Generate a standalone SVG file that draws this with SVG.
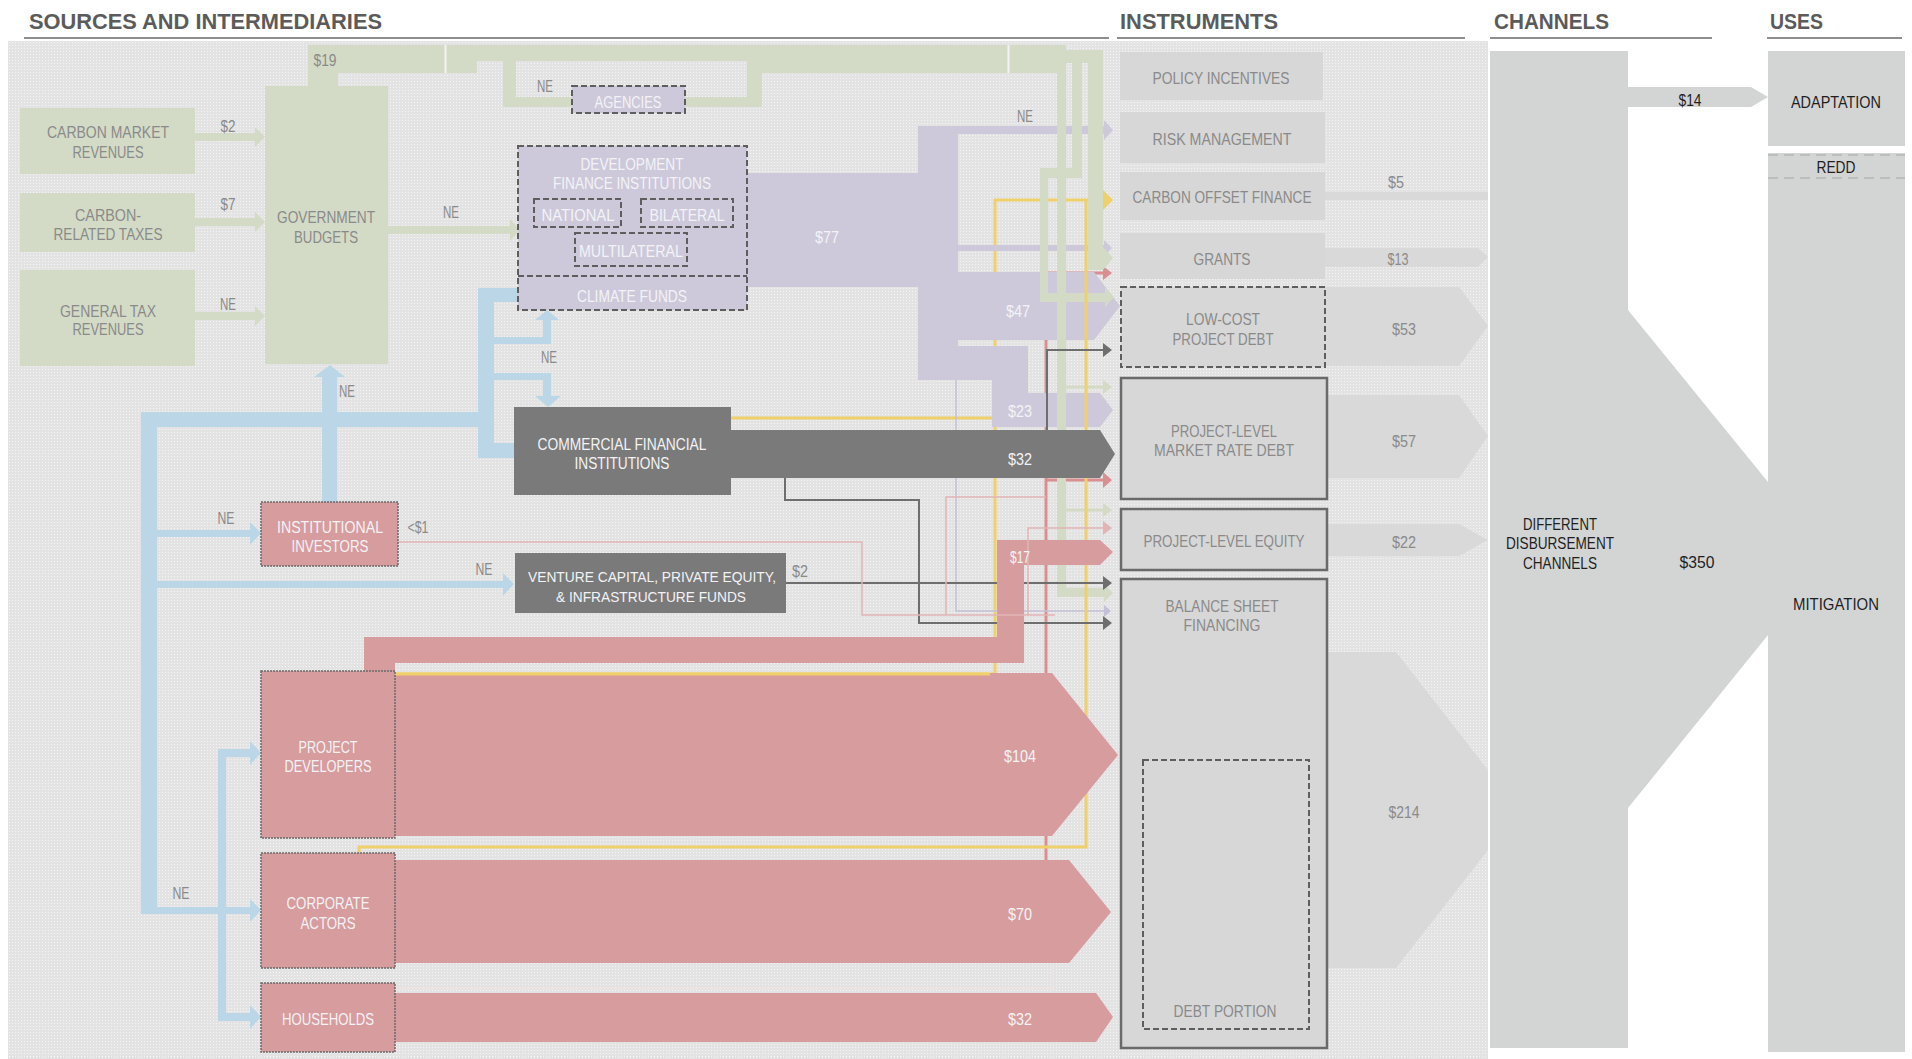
<svg xmlns="http://www.w3.org/2000/svg" width="1912" height="1059" viewBox="0 0 1912 1059">
<defs>
<style>
.t{font-family:"Liberation Sans",Arial,sans-serif;font-size:17px;text-anchor:middle}
.sm{font-size:14px}
.g{fill:#8a8a8a}
.w{fill:#f3f3f6}
.d{fill:#1f1f1f}
.hd{font-family:"Liberation Sans",Arial,sans-serif;font-size:22px;font-weight:bold;fill:#5b5b5b}
.hl{stroke:#8e8e8e;stroke-width:2}
.grn{fill:#d3dbc6}
.pur{fill:#cdc9db}
.blu{fill:#bbd7e7}
.red{fill:#d79c9e}
.drk{fill:#7a7a7a}
.ins{fill:#d7d7d7}
.chv{fill:#d9d9d9}
.chn{fill:#d3d5d5}
.dash{fill:none;stroke:#5e5e5e;stroke-width:2;stroke-dasharray:6 3}
.sol{fill:none;stroke:#6a6a6a;stroke-width:2.5}
.rb{stroke:#6a6a6a;stroke-width:1.5;stroke-dasharray:2 1}
.yl{fill:none;stroke:#efd06a;stroke-width:3}
.rl{fill:none;stroke:#d98f91;stroke-width:3}
.pl{fill:none;stroke:#e2b4b5;stroke-width:1.5}
.dl{fill:none;stroke:#6e6e6e;stroke-width:2}
.ll{fill:none;stroke:#c4c0d8;stroke-width:1.5}
</style>
<pattern id="tex" width="3" height="3" patternUnits="userSpaceOnUse"><rect width="1" height="1" fill="#f4f4f4"/></pattern>
</defs>

<g id="background">
<rect x="0" y="0" width="1912" height="1059" fill="#ffffff"/>
<rect x="8" y="41" width="1480" height="1018" fill="#e3e3e3"/>
<rect x="8" y="41" width="1480" height="1018" fill="url(#tex)"/>
</g>

<g id="headers">
<text class="hd" x="29" y="29" textLength="353" lengthAdjust="spacingAndGlyphs">SOURCES AND INTERMEDIARIES</text>
<text class="hd" x="1120" y="29" textLength="158" lengthAdjust="spacingAndGlyphs">INSTRUMENTS</text>
<text class="hd" x="1494" y="29" textLength="115" lengthAdjust="spacingAndGlyphs">CHANNELS</text>
<text class="hd" x="1770" y="29" textLength="53" lengthAdjust="spacingAndGlyphs">USES</text>
<line class="hl" x1="24" y1="38" x2="1109" y2="38"/>
<line class="hl" x1="1117" y1="38" x2="1465" y2="38"/>
<line class="hl" x1="1490" y1="38" x2="1712" y2="38"/>
<line class="hl" x1="1767" y1="38" x2="1902" y2="38"/>
</g>

<g id="connectors">
<g id="blue-flows">
<rect class="blu" x="141" y="412" width="16" height="502"/>
<rect class="blu" x="141" y="412" width="353" height="15"/>
<rect class="blu" x="478" y="288" width="16" height="170"/>
<rect class="blu" x="478" y="288" width="40" height="14"/>
<rect class="blu" x="494" y="337" width="57" height="7"/>
<rect class="blu" x="543" y="318" width="8" height="26"/>
<polygon class="blu" points="535,320 559,320 547,310"/>
<rect class="blu" x="494" y="373" width="57" height="7"/>
<rect class="blu" x="543" y="373" width="8" height="25"/>
<polygon class="blu" points="535,396 561,396 548,407"/>
<rect class="blu" x="478" y="443" width="36" height="15"/>
<rect class="blu" x="322" y="375" width="15" height="127"/>
<polygon class="blu" points="314,377 345,377 330,365"/>
<rect class="blu" x="157" y="530" width="93" height="7"/>
<polygon class="blu" points="250,522 250,545 261,533"/>
<rect class="blu" x="157" y="581" width="347" height="7"/>
<polygon class="blu" points="503,573 503,596 514,584"/>
<rect class="blu" x="141" y="907" width="109" height="7"/>
<polygon class="blu" points="250,899 250,922 261,910"/>
<rect class="blu" x="218" y="749" width="8" height="272"/>
<rect class="blu" x="218" y="749" width="32" height="8"/>
<polygon class="blu" points="250,741 250,765 261,753"/>
<rect class="blu" x="218" y="1013" width="32" height="8"/>
<polygon class="blu" points="250,1005 250,1029 261,1017"/>
</g>

<g id="green-flows">
<rect class="grn" x="195" y="133" width="60" height="8"/>
<polygon class="grn" points="255,127 255,147 265,137"/>
<rect class="grn" x="195" y="218" width="60" height="8"/>
<polygon class="grn" points="255,212 255,232 265,222"/>
<rect class="grn" x="195" y="312" width="60" height="8"/>
<polygon class="grn" points="255,306 255,326 265,316"/>
<rect class="grn" x="388" y="226" width="122" height="8"/>
<polygon class="grn" points="510,219 510,241 520,230"/>
<rect class="grn" x="308" y="45" width="758" height="16"/>
<rect class="grn" x="308" y="61" width="169" height="12"/>
<rect class="grn" x="747" y="61" width="319" height="12"/>
<rect class="grn" x="308" y="73" width="30" height="13"/>
<rect class="grn" x="503" y="61" width="13" height="46"/>
<rect class="grn" x="503" y="97" width="69" height="10"/>
<rect class="grn" x="685" y="97" width="77" height="10"/>
<rect class="grn" x="747" y="61" width="15" height="46"/>
<line x1="445.5" y1="45" x2="445.5" y2="73" stroke="#f2f2f2" stroke-width="2"/>
<line x1="1008.5" y1="45" x2="1008.5" y2="73" stroke="#f2f2f2" stroke-width="2"/>
</g>

<g id="yellow-a">
<path class="yl" d="M395 674H995V200H1104"/>
<path class="yl" d="M731 418H995"/>
<polygon fill="#efd06a" points="1103,190 1113,200 1103,210"/>
</g>

<g id="red-thin">
<path class="rl" d="M1046 860V273H1104"/>
<path class="rl" d="M1046 480H1104"/>
<polygon fill="#d98f91" points="1103,266 1112,273 1103,280"/>
<polygon fill="#d98f91" points="1103,472 1112,480 1103,488"/>
</g>

<g id="purple-flows">
<rect class="pur" x="747" y="173" width="172" height="114"/>
<rect class="pur" x="918" y="126" width="40" height="254"/>
<rect class="pur" x="958" y="126" width="146" height="8"/>
<polygon class="pur" points="1104,120 1113,130 1104,140"/>
<rect class="pur" x="958" y="245" width="146" height="6"/>
<polygon class="pur" points="1104,240 1112,248 1104,256"/>
<polygon class="pur" points="958,272 1094,272 1120,306 1094,340 958,340"/>
<rect class="pur" x="918" y="346" width="110" height="34"/>
<rect class="pur" x="992" y="346" width="36" height="81"/>
<polygon class="pur" points="992,393 1100,393 1113,410 1100,427 992,427"/>
<path class="ll" d="M956 380V611H1104"/>
<polygon fill="#c4c0d8" points="1104,605 1111,611 1104,617"/>
</g>

<g id="green-verticals">
<rect class="grn" x="1057" y="61" width="9" height="536"/>
<rect class="grn" x="1057" y="588" width="47" height="9"/>
<polygon class="grn" points="1104,584 1113,593 1104,602"/>
<rect class="grn" x="1066" y="50" width="37" height="13"/>
<rect class="grn" x="1088" y="50" width="15" height="220"/>
<polygon class="grn" points="1103,247 1113,258 1103,270"/>
<rect class="grn" x="1072" y="63" width="10" height="115"/>
<rect class="grn" x="1040" y="168" width="42" height="10"/>
<rect class="grn" x="1040" y="168" width="8" height="134"/>
<rect class="grn" x="1040" y="293" width="65" height="9"/>
<polygon class="grn" points="1105,287 1114,297 1105,307"/>
<path d="M1066 387H1104M1066 510H1104" fill="none" stroke="#d3dbc6" stroke-width="3"/>
<polygon class="grn" points="1103,380 1112,387 1103,394"/>
<polygon class="grn" points="1103,503 1112,510 1103,517"/>
</g>

<g id="yellow-b">
<path class="yl" d="M359 853V847H1086V200"/>
</g>

<g id="dark-flows">
<polygon class="drk" points="731,430 1100,430 1115,454 1100,478 731,478"/>
<path class="dl" d="M785 478V500H919V623H1104"/>
<polygon fill="#6e6e6e" points="1103,616 1112,623 1103,630"/>
<path class="dl" d="M786 583H1104"/>
<polygon fill="#6e6e6e" points="1103,576 1112,583 1103,590"/>
<path class="dl" d="M1047 430V350H1104"/>
<polygon fill="#6e6e6e" points="1103,343 1112,350 1103,357"/>
</g>

<g id="red-flows">
<rect class="red" x="364" y="637" width="660" height="26"/>
<rect class="red" x="364" y="637" width="31" height="36"/>
<rect class="red" x="997" y="540" width="27" height="123"/>
<polygon class="red" points="997,540 1100,540 1113,552 1100,565 997,565"/>
<polygon class="red" points="395,673 1052,673 1118,755 1052,836 395,836"/>
<polygon class="red" points="395,860 1069,860 1111,912 1069,963 395,963"/>
<polygon class="red" points="395,993 1096,993 1113,1017 1096,1042 395,1042"/>
<path class="yl" d="M395 674H990"/>
<path class="pl" d="M398 542H862V615H1055"/>
<path class="pl" d="M946 615V497H1046"/>
<path class="pl" d="M1028 615V528H1104"/>
<polygon fill="#e2b4b5" points="1103,521 1112,528 1103,535"/>
<path d="M395 988H1053V965" fill="none" stroke="#eee3e3" stroke-width="2"/>
</g>

<g id="flow-labels">
<text class="t g" x="325" y="66" textLength="23" lengthAdjust="spacingAndGlyphs">$19</text>
<text class="t g" x="545" y="92" textLength="16" lengthAdjust="spacingAndGlyphs">NE</text>
<text class="t g" x="228" y="132" textLength="15" lengthAdjust="spacingAndGlyphs">$2</text>
<text class="t g" x="228" y="210" textLength="15" lengthAdjust="spacingAndGlyphs">$7</text>
<text class="t g" x="228" y="310" textLength="16" lengthAdjust="spacingAndGlyphs">NE</text>
<text class="t g" x="451" y="218" textLength="16" lengthAdjust="spacingAndGlyphs">NE</text>
<text class="t g" x="347" y="397" textLength="16" lengthAdjust="spacingAndGlyphs">NE</text>
<text class="t g" x="549" y="363" textLength="16" lengthAdjust="spacingAndGlyphs">NE</text>
<text class="t g" x="1025" y="122" textLength="16" lengthAdjust="spacingAndGlyphs">NE</text>
<text class="t g" x="226" y="524" textLength="17" lengthAdjust="spacingAndGlyphs">NE</text>
<text class="t g" x="418" y="533" textLength="21" lengthAdjust="spacingAndGlyphs">&lt;$1</text>
<text class="t g" x="484" y="575" textLength="17" lengthAdjust="spacingAndGlyphs">NE</text>
<text class="t g" x="800" y="577" textLength="16" lengthAdjust="spacingAndGlyphs">$2</text>
<text class="t g" x="181" y="899" textLength="17" lengthAdjust="spacingAndGlyphs">NE</text>
<text class="t w" x="827" y="243" textLength="24" lengthAdjust="spacingAndGlyphs">$77</text>
<text class="t w" x="1018" y="317" textLength="24" lengthAdjust="spacingAndGlyphs">$47</text>
<text class="t w" x="1020" y="417" textLength="24" lengthAdjust="spacingAndGlyphs">$23</text>
<text class="t w" x="1020" y="465" textLength="24" lengthAdjust="spacingAndGlyphs">$32</text>
<text class="t w" x="1020" y="563" textLength="20" lengthAdjust="spacingAndGlyphs">$17</text>
<text class="t w" x="1020" y="762" textLength="32" lengthAdjust="spacingAndGlyphs">$104</text>
<text class="t w" x="1020" y="920" textLength="24" lengthAdjust="spacingAndGlyphs">$70</text>
<text class="t w" x="1020" y="1025" textLength="24" lengthAdjust="spacingAndGlyphs">$32</text>
</g>

<g id="instrument-flows">
<rect class="chv" x="1325" y="192" width="163" height="8"/>
<polygon class="chv" points="1325,248 1478,248 1488,257 1478,267 1325,267"/>
<polygon class="chv" points="1325,287 1459,287 1488,326 1459,366 1325,366"/>
<polygon class="chv" points="1327,395 1459,395 1488,436 1459,478 1327,478"/>
<polygon class="chv" points="1327,524 1459,524 1488,540 1459,556 1327,556"/>
<polygon class="chv" points="1327,652 1396,652 1488,770 1488,850 1396,968 1327,968"/>
<text class="t g" x="1396" y="188" textLength="16" lengthAdjust="spacingAndGlyphs">$5</text>
<text class="t g" x="1398" y="265" textLength="21" lengthAdjust="spacingAndGlyphs">$13</text>
<text class="t g" x="1404" y="335" textLength="24" lengthAdjust="spacingAndGlyphs">$53</text>
<text class="t g" x="1404" y="447" textLength="24" lengthAdjust="spacingAndGlyphs">$57</text>
<text class="t g" x="1404" y="548" textLength="24" lengthAdjust="spacingAndGlyphs">$22</text>
<text class="t g" x="1404" y="818" textLength="31" lengthAdjust="spacingAndGlyphs">$214</text>
<polygon class="chn" points="1628,87 1751,87 1768,97 1751,107 1628,107"/>
<text class="t d" x="1690" y="106" textLength="23" lengthAdjust="spacingAndGlyphs">$14</text>
</g>
</g>

<g id="n-carbon-market"><rect class="grn" x="20" y="108" width="175" height="66"/>
<text class="t g" x="108" y="138" textLength="122" lengthAdjust="spacingAndGlyphs">CARBON MARKET</text>
<text class="t g" x="108" y="158" textLength="71" lengthAdjust="spacingAndGlyphs">REVENUES</text></g>
<g id="n-carbon-taxes"><rect class="grn" x="20" y="193" width="175" height="59"/>
<text class="t g" x="108" y="221" textLength="66" lengthAdjust="spacingAndGlyphs">CARBON-</text>
<text class="t g" x="108" y="240" textLength="109" lengthAdjust="spacingAndGlyphs">RELATED TAXES</text></g>
<g id="n-general-tax"><rect class="grn" x="20" y="270" width="175" height="96"/>
<text class="t g" x="108" y="317" textLength="96" lengthAdjust="spacingAndGlyphs">GENERAL TAX</text>
<text class="t g" x="108" y="335" textLength="71" lengthAdjust="spacingAndGlyphs">REVENUES</text></g>
<g id="n-gov-budgets"><rect class="grn" x="265" y="86" width="123" height="278"/>
<text class="t g" x="326" y="223" textLength="98" lengthAdjust="spacingAndGlyphs">GOVERNMENT</text>
<text class="t g" x="326" y="243" textLength="64" lengthAdjust="spacingAndGlyphs">BUDGETS</text></g>

<g id="n-agencies"><rect class="pur" x="572" y="86" width="113" height="27"/><rect class="dash" x="572" y="86" width="113" height="27"/>
<text class="t w" x="628" y="108" textLength="67" lengthAdjust="spacingAndGlyphs">AGENCIES</text></g>
<g id="n-dfi"><rect class="pur" x="518" y="146" width="229" height="164"/><rect class="dash" x="518" y="146" width="229" height="164"/>
<line x1="518" y1="276" x2="747" y2="276" stroke="#5e5e5e" stroke-width="2" stroke-dasharray="6 3"/>
<text class="t w" x="632" y="170" textLength="103" lengthAdjust="spacingAndGlyphs">DEVELOPMENT</text>
<text class="t w" x="632" y="189" textLength="158" lengthAdjust="spacingAndGlyphs">FINANCE INSTITUTIONS</text>
<rect class="dash" x="534" y="199" width="87" height="28"/>
<text class="t w" x="578" y="221" textLength="73" lengthAdjust="spacingAndGlyphs">NATIONAL</text>
<rect class="dash" x="641" y="199" width="92" height="28"/>
<text class="t w" x="687" y="221" textLength="75" lengthAdjust="spacingAndGlyphs">BILATERAL</text>
<rect class="dash" x="575" y="233" width="112" height="33"/>
<text class="t w" x="631" y="257" textLength="104" lengthAdjust="spacingAndGlyphs">MULTILATERAL</text>
<text class="t w" x="632" y="302" textLength="110" lengthAdjust="spacingAndGlyphs">CLIMATE FUNDS</text></g>

<g id="n-commercial"><rect class="drk" x="514" y="407" width="217" height="88"/>
<text class="t w" x="622" y="450" textLength="169" lengthAdjust="spacingAndGlyphs">COMMERCIAL FINANCIAL</text>
<text class="t w" x="622" y="469" textLength="95" lengthAdjust="spacingAndGlyphs">INSTITUTIONS</text></g>
<g id="n-vc"><rect class="drk" x="515" y="553" width="271" height="60"/>
<text class="t w sm" x="652" y="582" textLength="248" lengthAdjust="spacingAndGlyphs">VENTURE CAPITAL, PRIVATE EQUITY,</text>
<text class="t w sm" x="651" y="602" textLength="190" lengthAdjust="spacingAndGlyphs">&amp; INFRASTRUCTURE FUNDS</text></g>

<g id="n-inst-investors"><rect class="red rb" x="261" y="502" width="137" height="64"/>
<text class="t w" x="330" y="533" textLength="106" lengthAdjust="spacingAndGlyphs">INSTITUTIONAL</text>
<text class="t w" x="330" y="552" textLength="77" lengthAdjust="spacingAndGlyphs">INVESTORS</text></g>
<g id="n-project-developers"><rect class="red rb" x="261" y="671" width="134" height="167"/>
<text class="t w" x="328" y="753" textLength="59" lengthAdjust="spacingAndGlyphs">PROJECT</text>
<text class="t w" x="328" y="772" textLength="87" lengthAdjust="spacingAndGlyphs">DEVELOPERS</text></g>
<g id="n-corporate"><rect class="red rb" x="261" y="853" width="134" height="115"/>
<text class="t w" x="328" y="909" textLength="83" lengthAdjust="spacingAndGlyphs">CORPORATE</text>
<text class="t w" x="328" y="929" textLength="55" lengthAdjust="spacingAndGlyphs">ACTORS</text></g>
<g id="n-households"><rect class="red rb" x="261" y="983" width="134" height="69"/>
<text class="t w" x="328" y="1025" textLength="92" lengthAdjust="spacingAndGlyphs">HOUSEHOLDS</text></g>

<g id="n-policy"><rect class="ins" x="1120" y="52" width="203" height="48"/>
<text class="t g" x="1221" y="84" textLength="137" lengthAdjust="spacingAndGlyphs">POLICY INCENTIVES</text></g>
<g id="n-risk"><rect class="ins" x="1120" y="112" width="205" height="51"/>
<text class="t g" x="1222" y="145" textLength="139" lengthAdjust="spacingAndGlyphs">RISK MANAGEMENT</text></g>
<g id="n-carbon-offset"><rect class="ins" x="1120" y="172" width="205" height="48"/>
<text class="t g" x="1222" y="203" textLength="179" lengthAdjust="spacingAndGlyphs">CARBON OFFSET FINANCE</text></g>
<g id="n-grants"><rect class="ins" x="1120" y="233" width="205" height="46"/>
<text class="t g" x="1222" y="265" textLength="57" lengthAdjust="spacingAndGlyphs">GRANTS</text></g>
<g id="n-lowcost"><rect class="ins" x="1121" y="287" width="204" height="80"/><rect class="dash" x="1121" y="287" width="204" height="80"/>
<text class="t g" x="1223" y="325" textLength="74" lengthAdjust="spacingAndGlyphs">LOW-COST</text>
<text class="t g" x="1223" y="345" textLength="101" lengthAdjust="spacingAndGlyphs">PROJECT DEBT</text></g>
<g id="n-market-debt"><rect class="ins" x="1121" y="378" width="206" height="121"/><rect class="sol" x="1121" y="378" width="206" height="121"/>
<text class="t g" x="1224" y="437" textLength="106" lengthAdjust="spacingAndGlyphs">PROJECT-LEVEL</text>
<text class="t g" x="1224" y="456" textLength="140" lengthAdjust="spacingAndGlyphs">MARKET RATE DEBT</text></g>
<g id="n-equity"><rect class="ins" x="1121" y="509" width="206" height="61"/><rect class="sol" x="1121" y="509" width="206" height="61"/>
<text class="t g" x="1224" y="547" textLength="161" lengthAdjust="spacingAndGlyphs">PROJECT-LEVEL EQUITY</text></g>
<g id="n-balance"><rect class="ins" x="1121" y="579" width="206" height="469"/><rect class="sol" x="1121" y="579" width="206" height="469"/>
<text class="t g" x="1222" y="612" textLength="113" lengthAdjust="spacingAndGlyphs">BALANCE SHEET</text>
<text class="t g" x="1222" y="631" textLength="77" lengthAdjust="spacingAndGlyphs">FINANCING</text>
<rect class="dash" x="1143" y="760" width="166" height="269"/>
<text class="t g" x="1225" y="1017" textLength="103" lengthAdjust="spacingAndGlyphs">DEBT PORTION</text></g>

<g id="n-channels"><polygon class="chn" points="1490,51 1628,51 1628,310 1768,482 1768,635 1628,808 1628,1048 1490,1048"/>
<text class="t d" x="1560" y="530" textLength="74" lengthAdjust="spacingAndGlyphs">DIFFERENT</text>
<text class="t d" x="1560" y="549" textLength="108" lengthAdjust="spacingAndGlyphs">DISBURSEMENT</text>
<text class="t d" x="1560" y="569" textLength="74" lengthAdjust="spacingAndGlyphs">CHANNELS</text>
<text class="t d" x="1697" y="568" textLength="35" lengthAdjust="spacingAndGlyphs">$350</text></g>

<g id="n-adaptation"><rect class="chn" x="1768" y="51" width="137" height="95"/>
<text class="t d" x="1836" y="108" textLength="90" lengthAdjust="spacingAndGlyphs">ADAPTATION</text></g>
<g id="n-mitigation"><rect class="chn" x="1768" y="153" width="137" height="899"/>
<path d="M1768 155H1905M1768 178H1905" fill="none" stroke="#bdbdbd" stroke-width="2" stroke-dasharray="10 6"/>
<text class="t d" x="1836" y="173" textLength="39" lengthAdjust="spacingAndGlyphs">REDD</text>
<text class="t d" x="1836" y="610" textLength="86" lengthAdjust="spacingAndGlyphs">MITIGATION</text></g>
</svg>
